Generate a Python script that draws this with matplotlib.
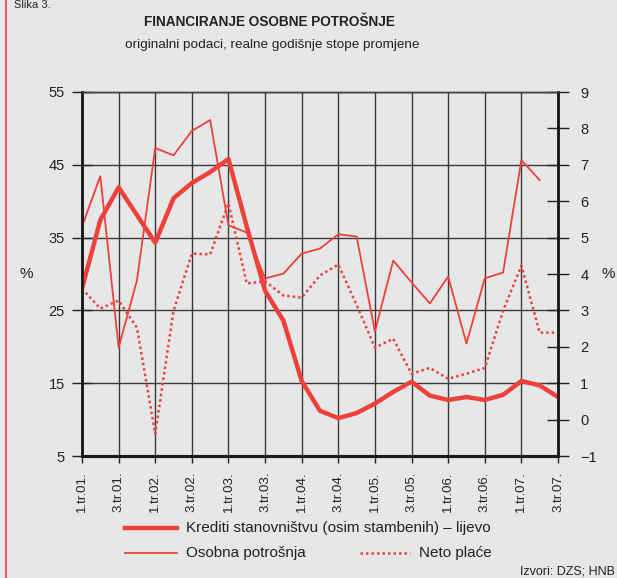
import numpy as np
import matplotlib
matplotlib.use("Agg")
import matplotlib.pyplot as plt
from matplotlib.lines import Line2D

plt.rcParams['font.family'] = ['Liberation Sans', 'DejaVu Sans']

# tick labels (every second quarter)
labels = ['1.tr.01.', '3.tr.01.', '1.tr.02.', '3.tr.02.', '1.tr.03.', '3.tr.03.', '1.tr.04.',
          '3.tr.04.', '1.tr.05.', '3.tr.05.', '1.tr.06.', '3.tr.06.', '1.tr.07.', '3.tr.07.']

# Krediti stanovnistvu (left axis), 1.tr.01 .. 3.tr.07
krediti = [28.0, 37.4, 41.9, 38.1, 34.3, 40.4, 42.5, 44.0, 45.8, 36.5, 27.7, 23.6, 15.3, 11.2,
           10.2, 10.9, 12.2, 13.8, 15.2, 13.3, 12.7, 13.1, 12.7, 13.4, 15.3, 14.7, 13.1]
# Osobna potrosnja (right axis)
osobna = [5.3, 6.69, 1.98, 3.82, 7.46, 7.26, 7.93, 8.23, 5.34, 5.14, 3.88, 4.01, 4.56, 4.70,
          5.09, 5.03, 2.42, 4.37, 3.77, 3.19, 3.93, 2.09, 3.88, 4.04, 7.13, 6.58, np.nan]
# Neto place (right axis)
neto = [3.60, 3.05, 3.27, 2.53, -0.39, 2.99, 4.56, 4.54, 5.94, 3.74, 3.80, 3.41, 3.35, 3.96,
        4.26, 3.15, 1.98, 2.22, 1.26, 1.42, 1.12, 1.26, 1.42, 2.99, 4.23, 2.39, 2.39]

bg = '#e6e7e8'
red = '#f0403a'
ink = '#222222'
x = np.arange(len(krediti))

fig = plt.figure(figsize=(6.17, 5.78), dpi=100, facecolor=bg)
ax = fig.add_axes([82/617, 1-456/578, 476/617, 364/578])
ax.set_facecolor(bg)
ax2 = ax.twinx()

ax.set_xlim(0, 26)
ax.set_ylim(5, 55)
ax2.set_ylim(-1, 9)
ax.set_yticks(range(5, 56, 10))
ax2.set_yticks(range(-1, 10))
ax.set_xticks(range(0, 27, 2))
ax.set_xticklabels(labels, rotation=90, fontsize=9.5)
ax.tick_params(axis='y', direction='inout', length=15, width=1, labelsize=10.5, pad=5, colors=ink)
ax2.tick_params(axis='y', direction='inout', length=16, width=1, labelsize=10.5, pad=8, colors=ink)
ax.tick_params(axis='x', direction='out', length=5, width=1, pad=6, colors=ink)

ax.grid(True, color='#3a3a3a', lw=1.0)
ax.set_axisbelow(True)

for a in (ax, ax2):
    for s in ('left', 'right', 'bottom'):
        a.spines[s].set_color('#1a1a1a')
    a.spines['left'].set_linewidth(1.8)
    a.spines['right'].set_linewidth(1.8)
    a.spines['bottom'].set_linewidth(2.2)
    a.spines['top'].set_color('#444444')
    a.spines['top'].set_linewidth(1.0)

ax2.plot(x, neto, color=red, lw=1.8, ls=(0, (1, 1.2)))
ax2.plot(x, osobna, color=red, lw=1.3)
ax2.plot(x, krediti, color=red, lw=3.2, transform=ax.transData)
ax2.set_ylim(-1, 9)

fig.text(26/617, 1-274/578, '%', fontsize=11, ha='center', va='center', color=ink)
fig.text(608/617, 1-274/578, '%', fontsize=11, ha='center', va='center', color=ink)

fig.text(269/617, 1-22/578, 'FINANCIRANJE OSOBNE POTROŠNJE', fontsize=9.8, fontweight='bold',
         ha='center', va='center', color=ink)
fig.text(272/617, 1-45/578, 'originalni podaci, realne godišnje stope promjene', fontsize=9.7,
         ha='center', va='center', color=ink)
fig.text(14/617, 1.0, 'Slika 3.', fontsize=8, ha='left', va='top', color=ink)

# legend
fig.add_artist(Line2D([125/617, 177/617], [1-528/578]*2, color=red, lw=3.2))
fig.text(186/617, 1-528/578, 'Krediti stanovništvu (osim stambenih) – lijevo', fontsize=11,
         va='center', color=ink)
fig.add_artist(Line2D([125/617, 177/617], [1-553/578]*2, color=red, lw=1.3))
fig.text(186/617, 1-553/578, 'Osobna potrošnja', fontsize=11, va='center', color=ink)
fig.add_artist(Line2D([360/617, 410/617], [1-553/578]*2, color=red, lw=1.8, ls=(0, (1, 1.2))))
fig.text(419/617, 1-553/578, 'Neto plaće', fontsize=11, va='center', color=ink)

fig.text(615/617, 1-571/578, 'Izvori: DZS; HNB', fontsize=9, ha='right', va='center', color=ink)

fig.add_artist(Line2D([6/617, 6/617], [0, 1], color=red, lw=1.2))

fig.savefig('out.png', dpi=100, facecolor=bg)
